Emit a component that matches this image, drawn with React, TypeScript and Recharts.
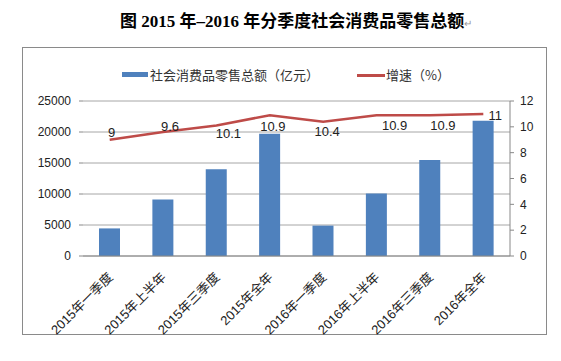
import { ComposedChart, Bar, Line, XAxis, YAxis, CartesianGrid, LabelList } from "recharts";

const categories = [
  "2015年一季度",
  "2015年上半年",
  "2015年三季度",
  "2015年全年",
  "2016年一季度",
  "2016年上半年",
  "2016年三季度",
  "2016年全年",
];
const retailSales = [4450, 9100, 14000, 19700, 4900, 10100, 15500, 21800];
const growthRate = [9, 9.6, 10.1, 10.9, 10.4, 10.9, 10.9, 11];
const leftTicks = [0, 5000, 10000, 15000, 20000, 25000];
const rightTicks = [0, 2, 4, 6, 8, 10, 12];
const boundaryTicks = [0, 1, 2, 3, 4, 5, 6, 7, 8];

// where each growth label sits relative to its point (Excel placed them by hand)
const LABEL_SHIFT: [number, number][] = [
  [2, -7],
  [7, -6],
  [12, 8],
  [3, 11],
  [4, 10],
  [18, 10],
  [13, 10],
  [12, 2],
];

const BAR_COLOR = "#4F81BD";
const LINE_COLOR = "#BE4B48";
const AXIS_COLOR = "#888";
const SANS = "'Liberation Sans', Arial, sans-serif";
const CJK = "'Noto Sans CJK SC', sans-serif";

const data = categories.map((name, i) => ({
  name,
  sales: retailSales[i],
  growth: growthRate[i],
}));

function CategoryTick(props: any) {
  const { x, y, payload } = props;
  const ax = x + 4;
  const ay = y + 22;
  return (
    <text
      x={ax}
      y={ay}
      transform={`rotate(-45 ${ax} ${ay})`}
      textAnchor="end"
      fontSize={13}
      fontFamily={`'Liberation Sans', ${CJK}`}
      fill="#222"
    >
      {payload.value}
    </text>
  );
}

function GrowthLabel(props: any) {
  const { x, y, value, index } = props;
  const [dx, dy] = LABEL_SHIFT[index] || [0, -8];
  return (
    <text
      x={x + dx}
      y={y + dy}
      textAnchor="middle"
      dominantBaseline="central"
      fontSize={13}
      fontFamily={SANS}
      fill="#222"
    >
      {value}
    </text>
  );
}

export default function App() {
  return (
    <div style={{ position: "absolute", left: 0, top: 0, width: 561, height: 361, background: "#fff" }}>
      {/* title */}
      <div
        style={{
          position: "absolute",
          left: 120,
          top: 10,
          whiteSpace: "nowrap",
          fontSize: 17,
          fontWeight: "bold",
          fontFamily: `'Liberation Serif', ${CJK}`,
          color: "#000",
          lineHeight: "24px",
        }}
      >
        图 2015 年–2016 年分季度社会消费品零售总额
        <span style={{ fontSize: 10, fontWeight: "normal", color: "#999" }}>↵</span>
      </div>

      {/* chart frame */}
      <div
        style={{
          position: "absolute",
          left: 22,
          top: 47,
          width: 525,
          height: 288,
          border: "1px solid #8a8a8a",
          boxSizing: "border-box",
        }}
      />

      {/* legend */}
      <div style={{ position: "absolute", left: 122, top: 72, width: 26, height: 5, background: BAR_COLOR }} />
      <div
        style={{
          position: "absolute",
          left: 150,
          top: 66,
          fontSize: 13,
          lineHeight: "18px",
          fontFamily: CJK,
          color: "#333",
          whiteSpace: "nowrap",
        }}
      >
        社会消费品零售总额（亿元）
      </div>
      <div style={{ position: "absolute", left: 357, top: 74, width: 28, height: 2.5, background: LINE_COLOR }} />
      <div
        style={{
          position: "absolute",
          left: 386,
          top: 66,
          fontSize: 13,
          lineHeight: "18px",
          fontFamily: CJK,
          color: "#333",
          whiteSpace: "nowrap",
        }}
      >
        增速（%）
      </div>

      <div style={{ position: "absolute", left: 0, top: 0 }}>
        <ComposedChart
          width={561}
          height={361}
          data={data}
          margin={{ top: 101, right: 21, bottom: 25, left: 23 }}
        >
          <CartesianGrid vertical={false} stroke="#a6a6a6" strokeWidth={1} yAxisId="left" />
          <XAxis
            xAxisId="bounds"
            type="number"
            domain={[0, 8]}
            ticks={boundaryTicks}
            allowDataOverflow
            height={0}
            tick={false}
            axisLine={false}
            tickLine={{ stroke: AXIS_COLOR }}
            tickSize={5}
          />
          <XAxis
            dataKey="name"
            interval={0}
            height={80}
            tick={<CategoryTick />}
            tickLine={false}
            tickSize={0}
            tickMargin={0}
            axisLine={{ stroke: AXIS_COLOR }}
          />
          <YAxis
            yAxisId="left"
            width={60}
            domain={[0, 25000]}
            ticks={leftTicks}
            tickSize={4}
            tickMargin={8}
            axisLine={false}
            tickLine={{ stroke: AXIS_COLOR }}
            tick={{ fontSize: 12, fontFamily: SANS, fill: "#222" }}
          />
          <YAxis
            yAxisId="right"
            orientation="right"
            width={30}
            domain={[0, 12]}
            ticks={rightTicks}
            tickSize={4}
            tickMargin={6}
            axisLine={{ stroke: AXIS_COLOR }}
            tickLine={{ stroke: AXIS_COLOR }}
            tick={{ fontSize: 12, fontFamily: SANS, fill: "#222" }}
          />
          <Bar yAxisId="left" dataKey="sales" fill={BAR_COLOR} barSize={21} isAnimationActive={false} />
          <Line
            yAxisId="right"
            dataKey="growth"
            type="linear"
            stroke={LINE_COLOR}
            strokeWidth={2.5}
            dot={false}
            activeDot={false}
            isAnimationActive={false}
          >
            <LabelList dataKey="growth" content={<GrowthLabel />} />
          </Line>
        </ComposedChart>
      </div>
    </div>
  );
}
